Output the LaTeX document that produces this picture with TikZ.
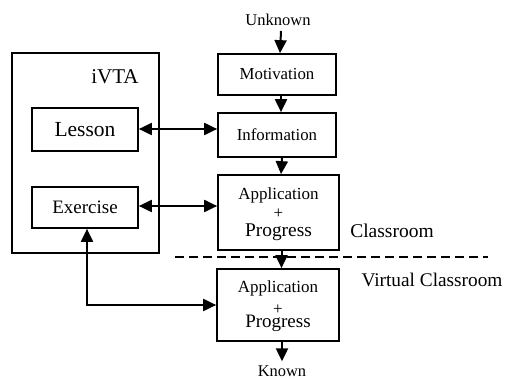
\documentclass[tikz,border=0pt]{standalone}
\usepackage{fontspec}
\setmainfont{Liberation Serif}
\usetikzlibrary{arrows.meta}
\newcommand{\fs}[1]{\fontsize{#1}{#1}\selectfont}
\begin{document}
\begin{tikzpicture}[x=1pt,y=-1pt,
  box/.style={draw,line width=1.7pt,inner sep=0pt,anchor=center},
  txt/.style={inner sep=0pt,anchor=center},
  arr/.style={line width=2pt,-{Triangle[length=13pt,width=12pt]}},
  darr/.style={line width=2pt,{Triangle[length=13pt,width=12pt]}-{Triangle[length=13pt,width=12pt]}}]
\useasboundingbox (0,0) rectangle (509,379);
% iVTA container
\node[box,minimum width=147pt,minimum height=200pt] (ivta) at (85.5,153) {};
\node[txt,font=\fs{21}] (ivtal) at (115,77) {iVTA};
\node[box,minimum width=106pt,minimum height=43pt,font=\fs{21.5}] (lesson) at (85,129.5) {Lesson};
\node[box,minimum width=106pt,minimum height=41pt,font=\fs{19}] (ex) at (85,207.5) {Exercise};
% flow
\node[txt,font=\fs{16.5}] (unk) at (278,20) {Unknown};
\node[box,minimum width=118pt,minimum height=41pt,font=\fs{16.8}] (mot) at (277,74.5) {Motivation};
\node[box,minimum width=118pt,minimum height=44pt,font=\fs{16.8}] (info) at (277,135) {Information};
\node[box,minimum width=121pt,minimum height=75pt] (app1) at (278.5,212.5) {};
\node[txt,font=\fs{17}] (a1t) at (278.5,195) {Application};
\node[txt,font=\fs{17}] (a1p) at (278.5,214) {+};
\node[txt,font=\fs{19.4}] (a1g) at (278.5,232) {Progress};
\node[box,minimum width=122pt,minimum height=72pt] (app2) at (278,305) {};
\node[txt,font=\fs{17}] (a2t) at (278,288) {Application};
\node[txt,font=\fs{17}] (a2p) at (278,310) {+};
\node[txt,font=\fs{19}] (a2g) at (278,323) {Progress};
\node[txt,font=\fs{16.4}] (known) at (282,371) {Known};
\node[txt,font=\fs{19.5}] (cls) at (392,231) {Classroom};
\node[txt,font=\fs{19.3}] (vcls) at (432,280) {Virtual Classroom};
\coordinate (dl) at (175,257);
\coordinate (dr) at (488,257);
\draw[line width=1.4pt,dash pattern=on 9pt off 5pt] (dl) -- (dr);
% arrows
\draw[arr] ([xshift=3pt,yshift=-5pt]unk.south) -- ([xshift=3pt]mot.north);
\draw[arr] ([xshift=4pt]mot.south) -- ([xshift=4pt]info.north);
\draw[arr] ([xshift=5pt]info.south) -- ([xshift=2.5pt]app1.north);
\draw[arr] ([xshift=3pt]app1.south) -- ([xshift=3.5pt]app2.north);
\draw[arr] ([xshift=4pt]app2.south) -- ([yshift=4pt]known.north);
\draw[darr] ([yshift=0.5pt]lesson.east) -- ([yshift=0.5pt]lesson.east -| info.west);
\draw[darr] ([yshift=1.5pt]ex.east) -- ([yshift=1.5pt]ex.east -| app1.west);
\draw[darr] ([xshift=2pt]ex.south) |- (app2.west);
\end{tikzpicture}
\end{document}
